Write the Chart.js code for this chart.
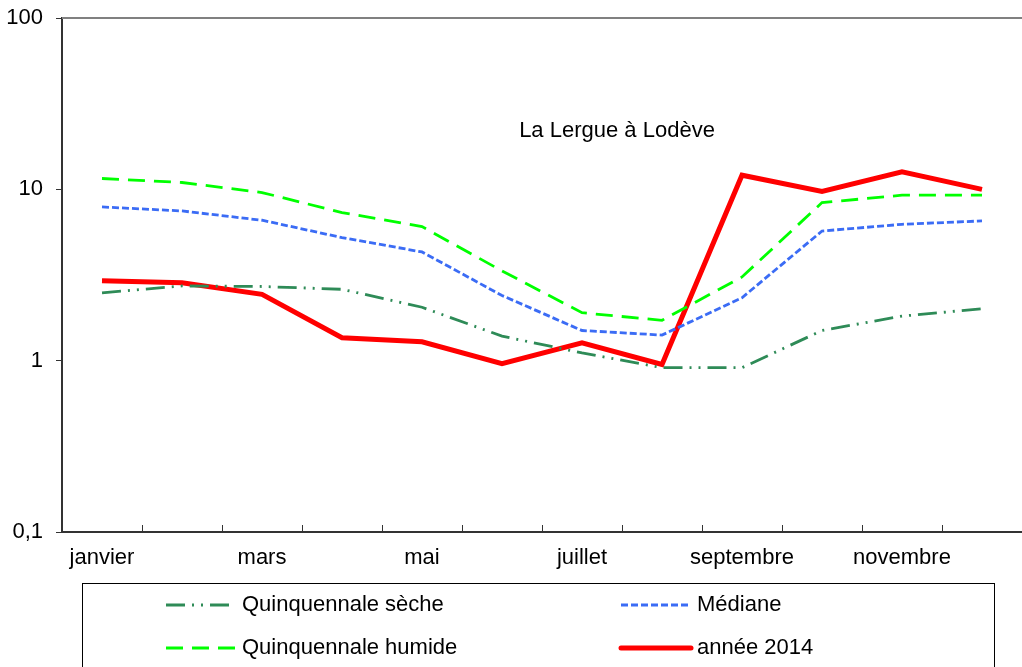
<!DOCTYPE html>
<html><head><meta charset="utf-8">
<script src="https://cdn.jsdelivr.net/npm/chart.js@4/dist/chart.umd.min.js"></script>
<style>html,body{margin:0;padding:0;background:#fff;}canvas{display:block;}</style>
</head><body>
<canvas id="c" width="1022" height="667"></canvas>
<script>
const months = ['janvier','février','mars','avril','mai','juin','juillet','août','septembre','octobre','novembre','décembre'];
const yTicks = [0.1, 1, 10, 100];
const chartTitle = 'La Lergue à Lodève';
const seche = [2.49, 2.73, 2.71, 2.61, 2.05, 1.39, 1.11, 0.91, 0.91, 1.50, 1.82, 2.01];
const mediane = [7.89, 7.48, 6.60, 5.23, 4.31, 2.40, 1.50, 1.41, 2.33, 5.71, 6.25, 6.54];
const humide = [11.57, 10.96, 9.58, 7.32, 6.06, 3.34, 1.905, 1.72, 3.08, 8.37, 9.24, 9.24];
const annee2014 = [2.93, 2.85, 2.44, 1.36, 1.29, 0.96, 1.27, 0.95, 12.09, 9.71, 12.64, 10.0];

const FONT = 'Liberation Sans, Arial, sans-serif';
const FS = 22;

const decorPlugin = {
  id: 'decor',
  afterDraw(chart) {
    const ctx = chart.ctx;
    const a = chart.chartArea;
    const xs = chart.scales.x;
    ctx.save();
    ctx.strokeStyle = '#808080';
    ctx.lineWidth = 2;
    ctx.beginPath(); ctx.moveTo(a.left, a.top); ctx.lineTo(a.right, a.top); ctx.stroke();
    ctx.strokeStyle = '#333';
    ctx.lineWidth = 1;
    for (let i = 1; i < months.length; i++) {
      const x = Math.round((xs.getPixelForValue(i - 1) + xs.getPixelForValue(i)) / 2) + 0.5;
      ctx.beginPath(); ctx.moveTo(x, a.bottom); ctx.lineTo(x, a.bottom - 7); ctx.stroke();
    }
    ctx.fillStyle = '#000';
    ctx.font = FS + 'px ' + FONT;
    ctx.textAlign = 'center';
    ctx.textBaseline = 'middle';
    ctx.fillText(chartTitle, 617, 131);
    ctx.strokeStyle = '#000';
    ctx.lineWidth = 1;
    ctx.strokeRect(82.5, 583.5, 912, 100);
    const ds = chart.data.datasets;
    const pos = [[166, 605], [621, 605], [166, 648], [621, 648]];
    ds.forEach((d, i) => {
      const [x, y] = pos[i];
      ctx.strokeStyle = d.borderColor;
      ctx.lineWidth = d.borderWidth;
      ctx.setLineDash(d.borderDash || []);
      ctx.lineCap = d.borderWidth > 3 ? 'round' : 'butt';
      ctx.beginPath(); ctx.moveTo(x, y); ctx.lineTo(x + 70, y); ctx.stroke();
      ctx.setLineDash([]);
      ctx.fillStyle = '#000';
      ctx.textAlign = 'left';
      ctx.fillText(d.label, x + 76, y);
    });
    ctx.restore();
  }
};

new Chart(document.getElementById('c'), {
  type: 'line',
  data: {
    labels: months,
    datasets: [
      { label: 'Quinquennale sèche', data: seche, borderColor: '#2e8b57', borderWidth: 2.8, borderDash: [19, 7, 2, 7, 2, 7] },
      { label: 'Médiane', data: mediane, borderColor: '#3b6cf5', borderWidth: 2.8, borderDash: [7, 3] },
      { label: 'Quinquennale humide', data: humide, borderColor: '#00ff00', borderWidth: 2.8, borderDash: [17, 9] },
      { label: 'année 2014', data: annee2014, borderColor: '#ff0000', borderWidth: 5 }
    ]
  },
  options: {
    responsive: false,
    animation: false,
    devicePixelRatio: 1,
    layout: { padding: { top: 18, right: 0, bottom: 0, left: 0 } },
    elements: { point: { radius: 0 }, line: { tension: 0, fill: false, borderJoinStyle: 'miter' } },
    plugins: { legend: { display: false }, title: { display: false }, tooltip: { enabled: false } },
    scales: {
      x: {
        type: 'category',
        offset: true,
        grid: { display: false, offset: true, drawTicks: false },
        border: { display: true, color: '#333', width: 2 },
        ticks: {
          autoSkip: false, maxRotation: 0, padding: 13, color: '#000',
          font: { family: FONT, size: FS },
          callback: function (v, i) { return i % 2 === 0 ? months[i] : ''; }
        },
        afterFit: function (s) { s.height = 135; s.paddingLeft = 0; s.paddingRight = 0; }
      },
      y: {
        type: 'logarithmic',
        min: 0.1, max: 100,
        grid: { drawOnChartArea: false, drawTicks: true, tickLength: 6, color: '#333', lineWidth: 1 },
        border: { display: true, color: '#333', width: 2 },
        afterBuildTicks: function (s) { s.ticks = yTicks.map(v => ({ value: v })); },
        ticks: {
          padding: 13, color: '#000',
          font: { family: FONT, size: FS },
          callback: function (v) { return String(v).replace('.', ','); }
        },
        afterFit: function (s) { s.width = 62; s.paddingTop = 0; s.paddingBottom = 0; }
      }
    }
  },
  plugins: [decorPlugin]
});
</script>
</body></html>
